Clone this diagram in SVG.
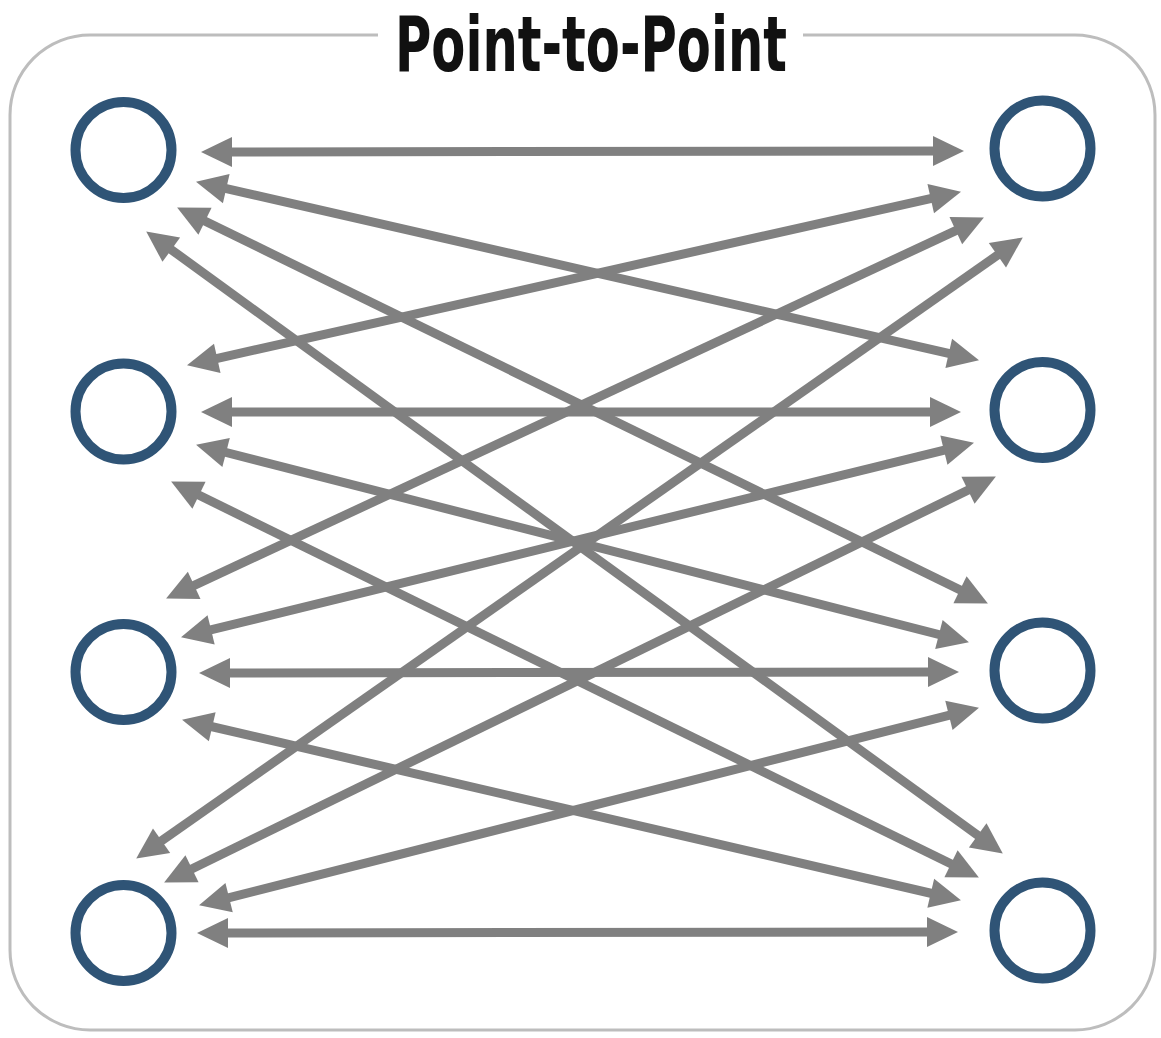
<svg xmlns="http://www.w3.org/2000/svg" width="1161" height="1038" viewBox="0 0 1161 1038">
<style>
.frame{fill:none;stroke:#bdbdbd;stroke-width:3}
.node{fill:#ffffff;stroke:#2f5476;stroke-width:10}
.conn line{stroke:#808080;stroke-width:9;marker-start:url(#ah);marker-end:url(#ah)}
.title{font-family:"Liberation Sans Narrow","DejaVu Sans Condensed","Liberation Sans",sans-serif;font-weight:bold;font-size:76px;fill:#111111}
</style>
<defs>
<marker id="ah" markerUnits="userSpaceOnUse" markerWidth="32" markerHeight="30" refX="10" refY="15" orient="auto-start-reverse" overflow="visible">
<path d="M0,0 L31,15 L0,30 Z" fill="#808080"/>
</marker>
</defs>
<rect width="1161" height="1038" fill="#ffffff"/>
<path class="frame" d="M378,35 H90 A80,80 0 0 0 10,115 V950 A80,80 0 0 0 90,1030 H1075 A80,80 0 0 0 1155,950 V115 A80,80 0 0 0 1075,35 H803"/>
<text class="title" x="591" y="71" text-anchor="middle" textLength="392" lengthAdjust="spacingAndGlyphs">Point-to-Point</text>
<g id="connectors" class="conn">
<line x1="222" y1="152" x2="943" y2="151"/>
<line x1="216.5" y1="186.4" x2="958.5" y2="355.6"/>
<line x1="196" y1="216.8" x2="969" y2="594.2"/>
<line x1="163.2" y1="243.8" x2="985.8" y2="841.2"/>
<line x1="207.5" y1="360.6" x2="940.5" y2="196.4"/>
<line x1="222" y1="412" x2="940" y2="412"/>
<line x1="216.4" y1="450" x2="948.6" y2="637"/>
<line x1="190" y1="490.8" x2="960" y2="868.2"/>
<line x1="185.1" y1="589.6" x2="964.9" y2="226.4"/>
<line x1="201.4" y1="632.2" x2="953.6" y2="447.8"/>
<line x1="220" y1="673" x2="938" y2="672"/>
<line x1="202.5" y1="724.5" x2="940.5" y2="895.5"/>
<line x1="153.4" y1="846.5" x2="1005.6" y2="249.5"/>
<line x1="183" y1="873.2" x2="977" y2="485.8"/>
<line x1="219.4" y1="900.1" x2="958.6" y2="712.9"/>
<line x1="218" y1="933" x2="937" y2="932"/>
</g>
<g id="L1"><circle class="node" cx="123.5" cy="150" r="48"/></g>
<g id="L2"><circle class="node" cx="123.5" cy="411.5" r="48"/></g>
<g id="L3"><circle class="node" cx="123.5" cy="672" r="48"/></g>
<g id="L4"><circle class="node" cx="123.5" cy="933" r="48"/></g>
<g id="R1"><circle class="node" cx="1042.5" cy="148.5" r="48"/></g>
<g id="R2"><circle class="node" cx="1042.5" cy="410" r="48"/></g>
<g id="R3"><circle class="node" cx="1042.5" cy="670.5" r="48"/></g>
<g id="R4"><circle class="node" cx="1042.5" cy="930.5" r="48"/></g>
</svg>
